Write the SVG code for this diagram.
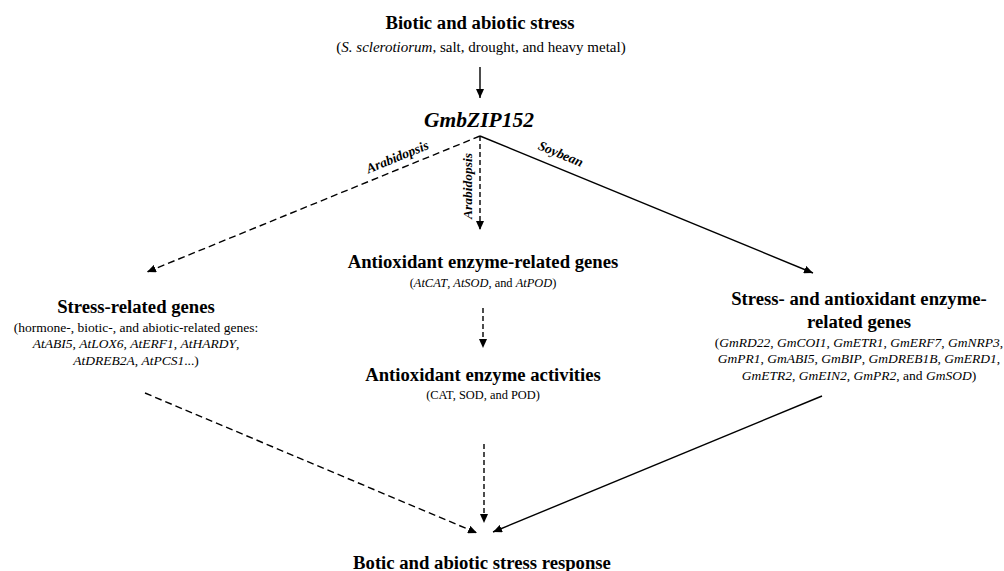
<svg xmlns="http://www.w3.org/2000/svg" width="1004" height="571" viewBox="0 0 1004 571">
<style>
text{font-family:"Liberation Serif","Times New Roman",serif;fill:#000;text-anchor:middle}
.h{font-weight:bold;font-size:18.7px}
.s{font-size:13.5px}
.m{font-size:12.4px}
.i{font-style:italic}
.lab{font-weight:bold;font-style:italic;font-size:13.5px}
.ln{stroke:#000;stroke-width:1.4;fill:none}
.d{stroke-dasharray:7 4}
.d2{stroke-dasharray:5 3}
</style>
<defs>
<marker id="ah" viewBox="0 0 9 8" refX="9" refY="4" markerWidth="9" markerHeight="8" markerUnits="userSpaceOnUse" orient="auto">
<path d="M0,0 L9,4 L0,8 z" fill="#000"/>
</marker>
</defs>
<rect width="1004" height="571" fill="#fff"/>
<g id="stress">
<text class="h" x="480" y="29">Biotic and abiotic stress</text>
<text x="481" y="52" style="font-size:15px">(<tspan class="i">S. sclerotiorum</tspan>, salt, drought, and heavy metal)</text>
</g>
<g id="gmbzip152">
<text x="479" y="127" style="font-weight:bold;font-style:italic;font-size:21.5px">GmbZIP152</text>
</g>
<g id="antioxidant-genes">
<text class="h" x="483" y="268">Antioxidant enzyme-related genes</text>
<text class="m" x="483" y="287">(<tspan class="i">AtCAT</tspan>, <tspan class="i">AtSOD</tspan>, and <tspan class="i">AtPOD</tspan>)</text>
</g>
<g id="antioxidant-activities">
<text class="h" x="483" y="381">Antioxidant enzyme activities</text>
<text class="m" x="483" y="399">(CAT, SOD, and POD)</text>
</g>
<g id="stress-genes">
<text class="h" x="136" y="313">Stress-related genes</text>
<text class="s" x="136" y="332">(hormone-, biotic-, and abiotic-related genes:</text>
<text class="s" x="136" y="348"><tspan class="i">AtABI5</tspan>, <tspan class="i">AtLOX6</tspan>, <tspan class="i">AtERF1</tspan>, <tspan class="i">AtHARDY</tspan>,</text>
<text class="s" x="136" y="365"><tspan class="i">AtDREB2A</tspan>, <tspan class="i">AtPCS1</tspan>...)</text>
</g>
<g id="soy-genes">
<text class="h" x="859" y="305">Stress- and antioxidant enzyme-</text>
<text class="h" x="859" y="328">related genes</text>
<text class="s" x="859" y="347">(<tspan class="i">GmRD22</tspan>, <tspan class="i">GmCOI1</tspan>, <tspan class="i">GmETR1</tspan>, <tspan class="i">GmERF7</tspan>, <tspan class="i">GmNRP3</tspan>,</text>
<text class="s" x="859" y="363"><tspan class="i">GmPR1</tspan>, <tspan class="i">GmABI5</tspan>, <tspan class="i">GmBIP</tspan>, <tspan class="i">GmDREB1B</tspan>, <tspan class="i">GmERD1</tspan>,</text>
<text class="s" x="859" y="380"><tspan class="i">GmETR2</tspan>, <tspan class="i">GmEIN2</tspan>, <tspan class="i">GmPR2</tspan>, and <tspan class="i">GmSOD</tspan>)</text>
</g>
<g id="response">
<text class="h" x="482" y="569">Botic and abiotic stress response</text>
</g>
<g id="connectors">
<line class="ln" x1="480" y1="67" x2="480" y2="98" marker-end="url(#ah)"/>
<line class="ln d" x1="480" y1="136" x2="147" y2="272" marker-end="url(#ah)"/>
<line class="ln d2" x1="480" y1="136" x2="480" y2="230" marker-end="url(#ah)"/>
<line class="ln" x1="480" y1="136" x2="813" y2="273" marker-end="url(#ah)"/>
<line class="ln d2" x1="483" y1="308" x2="483" y2="348" marker-end="url(#ah)"/>
<line class="ln d" x1="145" y1="393" x2="477" y2="533" marker-end="url(#ah)"/>
<line class="ln d2" x1="484" y1="444" x2="484" y2="523" marker-end="url(#ah)"/>
<line class="ln" x1="822" y1="396" x2="493" y2="532" marker-end="url(#ah)"/>
<text class="lab" transform="translate(399,161) rotate(-22.2)">Arabidopsis</text>
<text class="lab" transform="translate(472,186) rotate(-90)">Arabidopsis</text>
<text class="lab" transform="translate(559,158) rotate(22.4)">Soybean</text>
</g>
</svg>
